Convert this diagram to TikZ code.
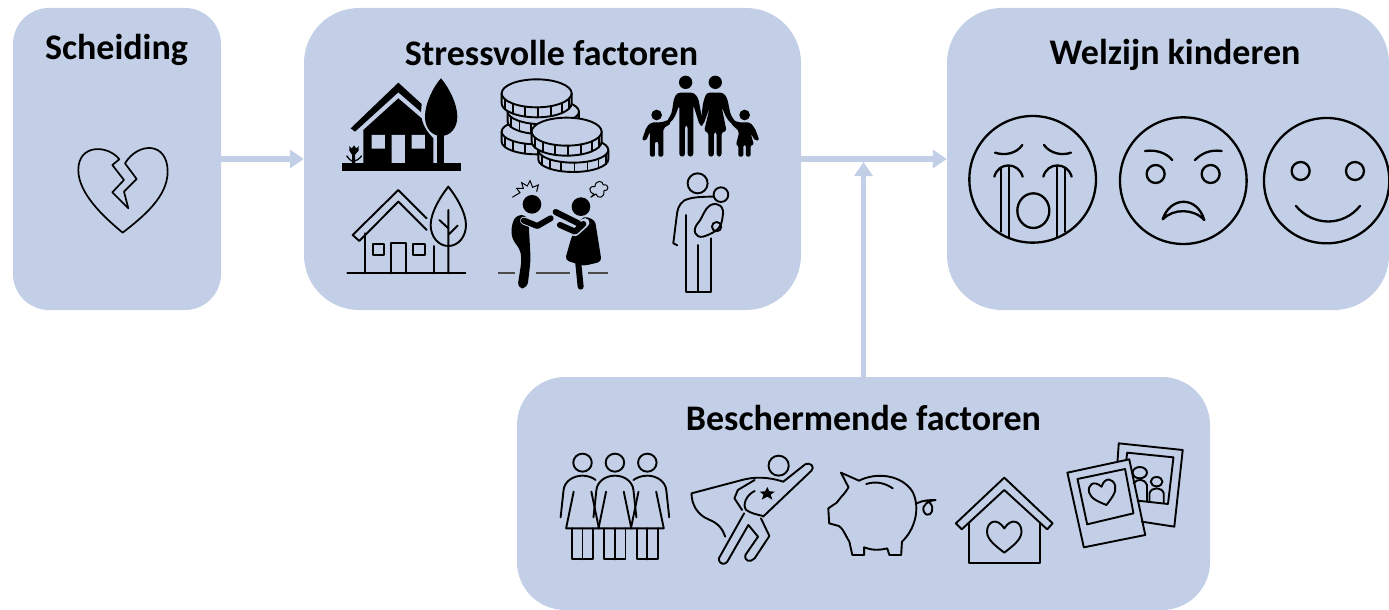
\documentclass[tikz,border=0pt]{standalone}
\usepackage{fontspec}
\setmainfont{Carlito}
\usetikzlibrary{arrows.meta}

\definecolor{panelkleur}{HTML}{C2CFE6}
\tikzset{
  panel/.style = {fill = panelkleur, inner sep = 0pt},
  titel/.style = {font = \bfseries\fontsize{36}{36}\selectfont, inner sep = 0pt},
  pijl/.style = {draw = panelkleur, line width = 5.5pt, -{Triangle[length = 14pt, width = 18pt]}},
  lijn/.style = {line width = 1.9pt, line join = round, line cap = round},
  munt/.style = {lijn, fill = panelkleur},
  zoomstress/.style = {shift = {(320,60)}, x = .3333pt, y = -.3333pt},
  zoomgezicht/.style = {shift = {(960,110)}, x = .3333pt, y = -.3333pt},
  zoombescherm/.style = {shift = {(540,430)}, x = .4209pt, y = -.3333pt},
  zoomhart/.style = {x = .3333pt, y = -.3333pt}
}

\begin{document}
\begin{tikzpicture}[x = 1pt, y = -1pt]
\def\hart{(0,-37) .. controls (-18,-72) and (-41,-57) .. (-41,-27) .. controls (-41,-2) and (-18,18) .. (0,36) .. controls (18,18) and (41,-2) .. (41,-27) .. controls (41,-57) and (18,-72) .. (0,-37) -- cycle} % Heart, centred

\useasboundingbox (0,0) rectangle (1389,610);

% Panels
\node[panel, minimum width = 208pt, minimum height = 302pt, rounded corners = 36pt] (scheiding) at (117,159) {};
\node[panel, minimum width = 497pt, minimum height = 302pt, rounded corners = 55pt] (stress) at (552.5,159) {};
\node[panel, minimum width = 442pt, minimum height = 302pt, rounded corners = 55pt] (welzijn) at (1168,159) {};
\node[panel, minimum width = 693pt, minimum height = 233pt, rounded corners = 48pt] (bescherm) at (863.5,493.5) {};

\node[titel] (titelscheiding) at (116.5,50) {Scheiding};
\node[titel] (titelstress) at (551.5,53) {Stressvolle factoren};
\node[titel] (titelwelzijn) at (1175,55) {Welzijn kinderen};
\node[titel] (titelbescherm) at (863.5,418) {Beschermende factoren};

% Arrows
\coordinate (samen) at (863.5,162);
\draw[pijl] (scheiding) -- (stress);
\draw[pijl] (stress) -- (welzijn);
\draw[pijl] (bescherm) -- (samen);

% Broken heart
\begin{scope}[zoomhart]
\draw[line width = 1.7pt, line join = round] (358,478) .. controls (325,435) and (235,430) .. (235,510) .. controls (235,580) and (310,650) .. (368,698) .. controls (430,650) and (503,590) .. (503,515) .. controls (503,425) and (415,425) .. (375,490) -- (410,537) -- (372,575) -- (385,625) -- (337,577) -- (372,540) -- (337,495) -- cycle;
\end{scope}

\begin{scope}[zoomstress]
% Filled house
\fill (92,205) -- (235,68) -- (305,132) -- (303,156) -- (235,97) -- (105,215) -- cycle;
\fill (130,210) -- (235,115) -- (305,175) .. controls (310,200) and (325,220) .. (340,235) -- (340,312) -- (130,312) -- cycle;
\fill[panelkleur] (155,225) rectangle (195,266) (275,225) rectangle (315,266) (215,225) rectangle (255,312);
\fill (66,310) rectangle (424,333);
\fill (363,55) .. controls (385,80) and (412,130) .. (412,170) .. controls (412,205) and (390,228) .. (363,228) .. controls (336,228) and (315,205) .. (315,170) .. controls (315,130) and (340,80) .. (363,55) -- cycle;
\fill (352,225) rectangle (373,312);
\fill (88,258) -- (95,266) -- (102,256) -- (109,266) -- (116,258) -- (116,272) -- (105,284) -- (105,312) -- (96,312) -- (96,284) -- (88,272) -- cycle;
\draw[line width = 1.3pt] (80,287) .. controls (88,300) and (95,303) .. (100,305) .. controls (108,302) and (118,298) .. (125,287);

% Coins
\foreach \cx/\cy/\rx/\ry/\dk in {650/215/105/38/30, 670/155/107/38/30, 650/100/105/42/30, 760/270/105/38/28, 740/215/105/42/30} {
  \draw[munt] (\cx-\rx,\cy) -- (\cx-\rx,\cy+\dk) arc[start angle = 180, end angle = 0, x radius = \rx, y radius = \ry] -- (\cx+\rx,\cy) -- cycle;
  \draw[munt] (\cx,\cy) ellipse[x radius = \rx, y radius = \ry];
  \foreach \a in {22,44,...,158} {
    \draw[lijn] ({\cx+\rx*cos(\a)},{\cy+\ry*sin(\a)}) -- ({\cx+\rx*cos(\a)},{\cy+\ry*sin(\a)+\dk});
  }
}

% Family
\fill (1097,67) circle (20) (1186,67) circle (20) (1010,165) circle (16) (1274,165) circle (16);
\fill[rounded corners = 3pt] (1072,98) -- (1122,98) -- (1135,115) -- (1150,195) -- (1140,198) -- (1120,135) -- (1120,290) -- (1103,290) -- (1103,195) -- (1095,195) -- (1095,290) -- (1078,290) -- (1078,135) -- (1065,170) -- (1050,190) -- (1040,185) -- (1055,160) -- (1062,115) -- cycle;
\fill[rounded corners = 3pt] (1160,98) -- (1210,98) -- (1222,115) -- (1232,165) -- (1250,190) -- (1240,197) -- (1220,175) -- (1205,140) -- (1220,215) -- (1205,215) -- (1205,290) -- (1190,290) -- (1190,215) -- (1182,215) -- (1182,290) -- (1165,290) -- (1165,215) -- (1152,215) -- (1170,140) -- (1150,195) -- (1140,198) -- (1150,125) -- cycle;
\fill[rounded corners = 2pt] (995,187) -- (1025,187) -- (1050,178) -- (1054,190) -- (1030,205) -- (1030,290) -- (1015,290) -- (1015,245) -- (1005,245) -- (1005,290) -- (990,290) -- (990,215) -- (978,243) -- (966,240) -- (980,200) -- cycle;
\fill[rounded corners = 2pt] (1255,187) -- (1290,187) -- (1305,205) -- (1318,240) -- (1306,243) -- (1292,220) -- (1302,255) -- (1292,255) -- (1292,290) -- (1278,290) -- (1278,255) -- (1270,255) -- (1270,290) -- (1255,290) -- (1255,255) -- (1248,255) -- (1258,215) -- (1232,190) -- (1240,180) -- cycle;

% Outlined house
\draw[lijn] (320,475) -- (235,390) -- (98,525) -- (118,543) -- (235,425) -- (320,510);
\draw[lijn] (135,520) -- (135,640) (342,558) -- (342,640) (82,640) -- (436,640);
\draw[lijn] (158,552) rectangle (192,585) (280,552) rectangle (314,585) (213,640) -- (213,550) -- (258,550) -- (258,640);
\draw[lijn] (385,380) .. controls (405,405) and (438,455) .. (438,495) .. controls (438,530) and (415,558) .. (385,558) .. controls (355,558) and (332,530) .. (332,495) .. controls (332,455) and (365,405) .. (385,380) -- cycle;
\draw[lijn] (385,450) -- (385,640) (358,480) -- (385,505) (413,497) -- (385,525);

% Quarrel
\draw[line width = 2pt, black!70] (535,638) -- (585,638) (648,638) -- (750,638) (805,638) -- (865,638);
\fill (636,433) circle (28) (783,440) circle (28);
\fill[rounded corners = 6pt] (590,463) -- (625,468) -- (632,600) -- (622,685) -- (592,685) -- (605,600) -- (600,565) -- (576,540) -- (574,495) -- cycle;
\draw[line width = 8pt, panelkleur, line cap = round, line join = round] (612,482) -- (652,498);
\draw[line width = 6pt, line cap = round, line join = round] (612,482) -- (652,498) -- (692,475);
\fill[rounded corners = 4pt] (790,468) -- (825,480) -- (845,605) -- (790,618) -- (735,600) -- (755,530) -- cycle;
\draw[line width = 9pt, panelkleur, line cap = round, line join = round] (720,495) -- (765,515) -- (795,488);
\draw[line width = 6pt, line cap = round, line join = round] (720,495) -- (765,515) -- (790,492);
\draw[line width = 6pt, line cap = round] (707,456) -- (775,490) (775,610) -- (782,680);
\draw[line width = 1pt, line join = miter] (577,412) -- (600,398) -- (590,385) -- (610,385) -- (605,368) -- (622,378) -- (630,362) -- (638,382) -- (655,375) -- (650,395);
\draw[line width = 1pt, line join = round] (812,412) -- (822,402) .. controls (802,395) and (808,375) .. (825,380) .. controls (825,360) and (850,360) .. (850,375) .. controls (868,370) and (868,395) .. (852,392) .. controls (855,415) and (832,418) .. (828,402) -- cycle;

% Father with baby
\draw[lijn] (1133,370) circle (30) (1203,404) circle (22) (1190,500) circle (14);
\draw[lijn] (1182,410) .. controls (1140,410) and (1110,412) .. (1092,422) .. controls (1075,435) and (1072,450) .. (1070,470) -- (1060,550) -- (1072,556);
\draw[lijn] (1097,465) -- (1097,695) -- (1172,695) -- (1172,535) (1135,555) -- (1135,695);
\draw[lijn] (1172,435) .. controls (1195,425) and (1215,440) .. (1208,470) .. controls (1205,500) and (1195,515) .. (1150,530) .. controls (1125,535) and (1115,510) .. (1135,488) .. controls (1150,470) and (1150,450) .. (1172,435) -- cycle;
\end{scope}

% Faces
\begin{scope}[zoomgezicht, line width = 2.3pt, line cap = round, line join = round]
\draw (218,208) circle (190) (670,212) circle (190) (1100,212) circle (188);
\draw (105,128) .. controls (135,138) and (170,130) .. (187,105) (252,105) .. controls (270,130) and (305,138) .. (333,128);
\draw (103,200) .. controls (115,155) and (175,155) .. (188,200) (250,200) .. controls (262,155) and (322,155) .. (335,200);
\draw[line width = 1.9pt] (122,172) -- (122,365) (148,168) -- (148,380) (290,168) -- (290,380) (315,172) -- (315,365);
\draw (220,302) ellipse[x radius = 48, y radius = 52];
\draw (555,123) .. controls (590,118) and (620,130) .. (637,150) (705,150) .. controls (725,130) and (750,118) .. (785,123);
\draw (587,192) circle (27) (752,192) circle (27);
\draw (608,328) .. controls (630,260) and (710,255) .. (733,330) .. controls (700,295) and (640,295) .. (608,328) -- cycle;
\draw (1022,183) circle (27) (1185,183) circle (27);
\draw (1008,288) .. controls (1060,350) and (1150,350) .. (1200,288);
\end{scope}

\begin{scope}[zoombescherm, lijn]
% Three women
\foreach \cx in {101,178,255} {
  \draw (\cx,98) ellipse[x radius = 22, y radius = 27];
  \draw (\cx-21,185) -- (\cx-39,295) -- (\cx+39,295) -- (\cx+21,185);
  \draw (\cx-25,295) -- (\cx-25,388) -- (\cx+25,388) -- (\cx+25,295) (\cx,295) -- (\cx,388);
}
\draw (49,262) -- (56,180) .. controls (58,155) and (78,137) .. (101,137) .. controls (112,137) and (125,142) .. (132,150);
\draw (127,262) -- (134,180) .. controls (136,155) and (155,137) .. (178,137) .. controls (201,137) and (220,155) .. (222,180) -- (229,262);
\draw (222,150) .. controls (230,142) and (243,137) .. (255,137) .. controls (278,137) and (298,155) .. (300,180) -- (307,262);

% Hero
\draw (567,107) ellipse[x radius = 24, y radius = 30];
\draw (578,155) -- (630,103) .. controls (640,95) and (655,110) .. (645,122) -- (530,260);
\draw (578,155) .. controls (540,140) and (510,140) .. (480,150) -- (360,190) .. controls (360,225) and (375,255) .. (400,268) .. controls (425,280) and (435,300) .. (440,320);
\draw (510,150) -- (470,180) -- (462,205) -- (480,240);
\draw (510,183) .. controls (490,195) and (480,225) .. (490,240) .. controls (500,250) and (520,255) .. (530,258);
\draw (485,250) -- (425,385) .. controls (425,405) and (440,405) .. (445,395) -- (495,285) -- (518,320) -- (488,375) .. controls (485,395) and (500,398) .. (510,385) -- (545,318) -- (525,265);
\fill (540,171) -- (545,184) -- (558,185) -- (548,194) -- (552,209) -- (540,200) -- (527,209) -- (531,194) -- (522,185) -- (535,184) -- cycle;

% Piggy bank
\draw (715,128) -- (758,152) .. controls (800,125) and (860,135) .. (885,185) .. controls (905,235) and (890,300) .. (860,335) -- (858,375) -- (830,375) -- (825,355) .. controls (805,362) and (785,360) .. (770,352) -- (770,375) -- (742,375) -- (735,335) .. controls (725,315) and (720,295) .. (710,288) -- (687,280) -- (685,235) -- (705,218) .. controls (715,200) and (725,190) .. (733,172) -- cycle;
\draw (775,162) .. controls (800,152) and (820,160) .. (838,175);
\draw (895,220) .. controls (910,210) and (930,210) .. (940,210) .. controls (925,210) and (905,225) .. (912,245) .. controls (920,265) and (935,250) .. (932,232) .. controls (930,222) and (925,215) .. (920,213);

% Home with heart
\draw (988,280) -- (1103,143) -- (1218,280) -- (1205,298) -- (1103,180) -- (1002,298) -- cycle;
\draw (1020,278) -- (1020,398) -- (1187,398) -- (1187,278);
\draw[shift = {(1103,332)}] \hart;

% Photos
\draw (1372,95) -- (1375,40) -- (1527,60) -- (1507,290) -- (1430,275);
\draw (1393,90) -- (1395,68) -- (1505,82) -- (1492,222) -- (1420,212);
\draw (1253,128) -- (1400,88) -- (1438,315) -- (1292,352) -- cycle;
\draw (1277,147) -- (1390,117) -- (1410,250) -- (1300,283) -- cycle;
\draw[shift = {(1340,198)}, rotate = 15, scale = .78] \hart;
\draw (1425,128) circle (17) (1465,155) circle (14);
\draw (1410,160) .. controls (1420,145) and (1435,145) .. (1442,165) -- (1442,215) (1448,215) -- (1448,190) .. controls (1452,170) and (1478,170) .. (1482,190) -- (1482,218);
\end{scope}
\end{tikzpicture}
\end{document}
